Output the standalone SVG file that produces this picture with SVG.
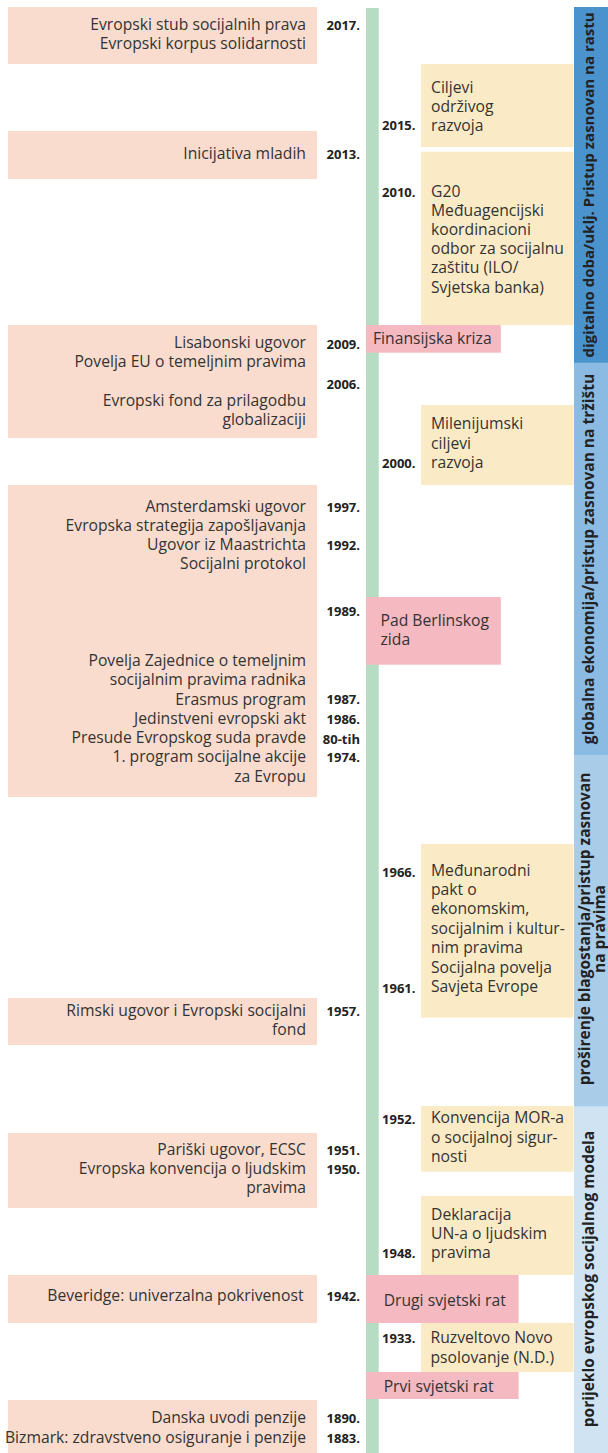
<svg xmlns="http://www.w3.org/2000/svg" width="608" height="1453" viewBox="0 0 608 1453">
<style>
.pk{fill:#f9dcce}
.yl{fill:#faebc6}
.rd{fill:#f5b9c1}
.t{font-family:"Open Sans","Liberation Sans",sans-serif;font-size:15.7px;fill:#333}
.l{text-anchor:end}
.y{font-family:"Open Sans","Liberation Sans",sans-serif;font-size:13px;font-weight:bold;fill:#222;text-anchor:end}
.b{font-family:"Open Sans","Liberation Sans",sans-serif;font-size:15.5px;font-weight:bold;fill:#222;text-anchor:middle}
</style>
<rect width="608" height="1453" fill="#fff"/>
<g id="bands">
<rect x="574" y="7" width="34" height="356" fill="#4b93cc"/>
<rect x="574" y="362.7" width="34" height="393" fill="#8bbbe3"/>
<rect x="574" y="755.7" width="34" height="351" fill="#a9cde8"/>
<rect x="574" y="1106.7" width="34" height="346.3" fill="#d0e3f3"/>
<text class="b" style="font-size:15px" transform="translate(593.5,185) rotate(-90)">digitalno doba/uklj. Pristup zasnovan na rastu</text>
<text class="b" transform="translate(593.5,559) rotate(-90)">globalna ekonomija/pristup zasnovan na tržištu</text>
<text class="b" transform="translate(589.5,929) rotate(-90)">proširenje blagostanja/pristup zasnovan</text>
<text class="b" transform="translate(605,929) rotate(-90)">na pravima</text>
<text class="b" transform="translate(593.5,1279) rotate(-90)">porijeklo evropskog socijalnog modela</text>
</g>
<g id="timeline">
<rect x="366" y="8" width="12.7" height="1445" fill="#b6dcc4"/>
</g>
<g id="left-2017">
<rect class="pk" x="8" y="7" width="309" height="57"/>
<text class="t l" x="306" y="30">Evropski stub socijalnih prava</text>
<text class="t l" x="306" y="49">Evropski korpus solidarnosti</text>
<text class="y" x="360" y="30">2017.</text>
</g>
<g id="left-2013">
<rect class="pk" x="8" y="131" width="309" height="48"/>
<text class="t l" x="306" y="159">Inicijativa mladih</text>
<text class="y" x="360" y="159">2013.</text>
</g>
<g id="left-2009">
<rect class="pk" x="8" y="325" width="309" height="113"/>
<text class="t l" x="306" y="348">Lisabonski ugovor</text>
<text class="t l" x="306" y="367">Povelja EU o temeljnim pravima</text>
<text class="t l" x="306" y="406">Evropski fond za prilagodbu</text>
<text class="t l" x="306" y="425">globalizaciji</text>
<text class="y" x="360" y="349">2009.</text>
<text class="y" x="360" y="389">2006.</text>
</g>
<g id="left-1997">
<rect class="pk" x="8" y="485" width="309" height="312"/>
<text class="t l" x="306" y="512">Amsterdamski ugovor</text>
<text class="t l" x="306" y="531">Evropska strategija zapošljavanja</text>
<text class="t l" x="306" y="550">Ugovor iz Maastrichta</text>
<text class="t l" x="306" y="569">Socijalni protokol</text>
<text class="t l" x="306" y="666">Povelja Zajednice o temeljnim</text>
<text class="t l" x="306" y="685">socijalnim pravima radnika</text>
<text class="t l" x="306" y="705">Erasmus program</text>
<text class="t l" x="306" y="724">Jedinstveni evropski akt</text>
<text class="t l" x="306" y="743">Presude Evropskog suda pravde</text>
<text class="t l" x="306" y="762">1. program socijalne akcije</text>
<text class="t l" x="306" y="782">za Evropu</text>
<text class="y" x="360" y="512">1997.</text>
<text class="y" x="360" y="550">1992.</text>
<text class="y" x="360" y="616">1989.</text>
<text class="y" x="360" y="704">1987.</text>
<text class="y" x="360" y="724">1986.</text>
<text class="y" x="360" y="744">80-tih</text>
<text class="y" x="360" y="762">1974.</text>
</g>
<g id="left-1957">
<rect class="pk" x="8" y="998" width="309" height="47"/>
<text class="t l" x="306" y="1016">Rimski ugovor i Evropski socijalni</text>
<text class="t l" x="306" y="1035">fond</text>
<text class="y" x="360" y="1016">1957.</text>
</g>
<g id="left-1951">
<rect class="pk" x="8" y="1133" width="309" height="75"/>
<text class="t l" x="306" y="1155">Pariški ugovor, ECSC</text>
<text class="t l" x="306" y="1174">Evropska konvencija o ljudskim</text>
<text class="t l" x="306" y="1193">pravima</text>
<text class="y" x="360" y="1155">1951.</text>
<text class="y" x="360" y="1174">1950.</text>
</g>
<g id="left-1942">
<rect class="pk" x="8" y="1275" width="309" height="48"/>
<text class="t l" x="303.5" y="1300.5">Beveridge: univerzalna pokrivenost</text>
<text class="y" x="360" y="1301">1942.</text>
</g>
<g id="left-1890">
<rect class="pk" x="8" y="1400" width="309" height="53"/>
<text class="t l" x="306" y="1423">Danska uvodi penzije</text>
<text class="t l" x="306" y="1443">Bizmark: zdravstveno osiguranje i penzije</text>
<text class="y" x="360" y="1423">1890.</text>
<text class="y" x="360" y="1443">1883.</text>
</g>
<g id="right-2015">
<rect class="yl" x="421" y="64" width="152.6" height="83"/>
<text class="t" x="431" y="93">Ciljevi</text>
<text class="t" x="431" y="112">održivog</text>
<text class="t" x="431" y="131">razvoja</text>
<text class="y" x="415.5" y="130">2015.</text>
</g>
<g id="right-2010">
<rect class="yl" x="421" y="151.7" width="152.6" height="173.3"/>
<text class="t" x="431" y="197">G20</text>
<text class="t" x="431" y="216">Međuagencijski</text>
<text class="t" x="431" y="235">koordinacioni</text>
<text class="t" x="431" y="254">odbor za socijalnu</text>
<text class="t" x="431" y="273">zaštitu (ILO/</text>
<text class="t" x="431" y="293">Svjetska banka)</text>
<text class="y" x="415.5" y="197">2010.</text>
</g>
<g id="event-kriza">
<rect class="rd" x="366" y="325" width="134.8" height="27.7"/>
<text class="t" x="373" y="343.5">Finansijska kriza</text>
</g>
<g id="right-2000">
<rect class="yl" x="421" y="405" width="152.6" height="80"/>
<text class="t" x="431" y="429">Milenijumski</text>
<text class="t" x="431" y="449">ciljevi</text>
<text class="t" x="431" y="468">razvoja</text>
<text class="y" x="415.5" y="468">2000.</text>
</g>
<g id="event-berlin">
<rect class="rd" x="366" y="597" width="134.8" height="67.7"/>
<text class="t" x="380.5" y="626">Pad Berlinskog</text>
<text class="t" x="380.5" y="645">zida</text>
</g>
<g id="right-1966">
<rect class="yl" x="421" y="844" width="152.6" height="173.7"/>
<text class="t" x="431" y="876">Međunarodni</text>
<text class="t" x="431" y="895">pakt o</text>
<text class="t" x="431" y="914">ekonomskim,</text>
<text class="t" x="431" y="934">socijalnim i kultur-</text>
<text class="t" x="431" y="953">nim pravima</text>
<text class="t" x="431" y="973">Socijalna povelja</text>
<text class="t" x="431" y="992">Savjeta Evrope</text>
<text class="y" x="415.5" y="877">1966.</text>
<text class="y" x="415.5" y="993">1961.</text>
</g>
<g id="right-1952">
<rect class="yl" x="421" y="1106" width="152.6" height="65.7"/>
<text class="t" x="431" y="1123">Konvencija MOR-a</text>
<text class="t" x="431" y="1143">o socijalnoj sigur-</text>
<text class="t" x="431" y="1162">nosti</text>
<text class="y" x="415.5" y="1124">1952.</text>
</g>
<g id="right-1948">
<rect class="yl" x="421" y="1196" width="152.6" height="79"/>
<text class="t" x="431" y="1220">Deklaracija</text>
<text class="t" x="431" y="1239">UN-a o ljudskim</text>
<text class="t" x="431" y="1258">pravima</text>
<text class="y" x="415.5" y="1258">1948.</text>
</g>
<g id="event-ww2">
<rect class="rd" x="366" y="1275" width="152.6" height="48"/>
<text class="t" x="383.7" y="1306">Drugi svjetski rat</text>
</g>
<g id="right-1933">
<rect class="yl" x="421" y="1323" width="152.6" height="49"/>
<text class="t" x="430.5" y="1343">Ruzveltovo Novo</text>
<text class="t" x="430.5" y="1363">psolovanje (N.D.)</text>
<text class="y" x="415.5" y="1343">1933.</text>
</g>
<g id="event-ww1">
<rect class="rd" x="366" y="1372" width="152.6" height="27"/>
<text class="t" x="383.7" y="1391.5">Prvi svjetski rat</text>
</g>
</svg>
